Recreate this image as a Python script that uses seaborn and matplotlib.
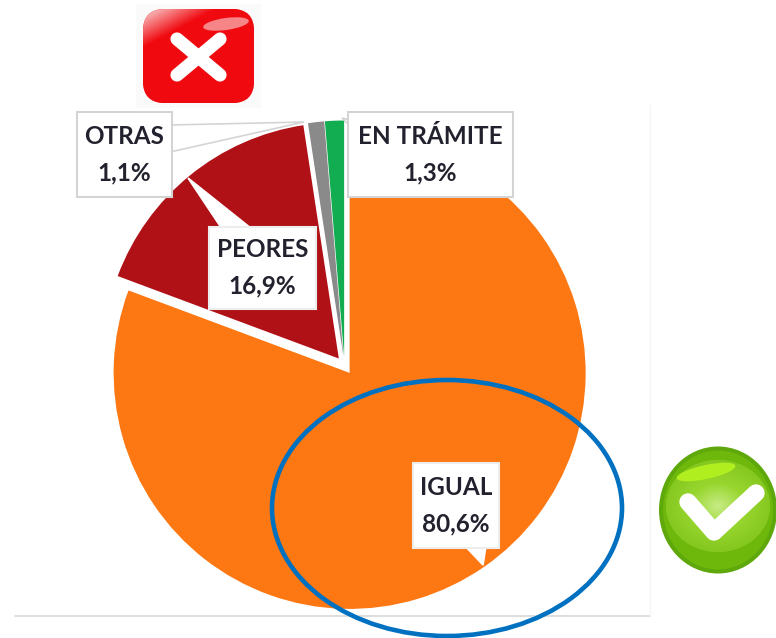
import matplotlib
matplotlib.use("Agg")
import matplotlib.pyplot as plt
import numpy as np
import seaborn as sns
from matplotlib.colors import LinearSegmentedColormap
from matplotlib.patches import Ellipse, FancyBboxPatch, Polygon, Rectangle

# -------------------- DATA --------------------
categories = ["IGUAL", "PEORES", "OTRAS", "EN TRÁMITE"]
values = [80.6, 16.9, 1.1, 1.3]
colors = ["#FD7712", "#B01116", "#8A8A8A", "#12AD50"]

W, H = 776, 638

sns.set_theme(style="white")
plt.rcParams["font.family"] = ["Lato", "DejaVu Sans"]


def sy(y):
    # picture y (from the top) to axes y
    return H - y


def pct(i):
    return f"{categories[i]}\n{values[i]:.1f}%".replace(".", ",")


fig = plt.figure(figsize=(W / 100, H / 100), dpi=100)
ax = fig.add_axes([0, 0, 1, 1])

# -------------------- PIE --------------------
ax.pie(values, colors=colors, startangle=90, counterclock=False,
       center=(344.5, sy(365.5)), radius=236, explode=[9, 9, 9, 9],
       frame=True, wedgeprops={"linewidth": 0})

# faint frame of the pasted chart
ax.plot([15, 650], [sy(616), sy(616)], color="#DEDEDE", lw=1.5, zorder=1)
ax.plot([650, 650], [sy(105), sy(616)], color="#F6F6F6", lw=1, zorder=1)

# -------------------- LABEL BOXES --------------------
boxes = {
    0: (413, 463, 499, 548, [(465, 546), (483, 565), (486, 546)]),
    1: (209, 227, 316, 309, [(222, 229), (188, 178), (252, 229)]),
    2: (77, 112, 172, 197, [(170, 125), (304, 122), (170, 152)]),
    3: (348, 112, 513, 197, [(350, 120), (342, 118), (350, 126)]),
}
for i, (x0, y0, x1, y1, tip) in boxes.items():
    edge = "#D4D4D4" if i in (2, 3) else "#EDEDED"
    tip_edge = edge if i in (2, 3) else "white"
    ax.add_patch(Polygon([(x, sy(y)) for x, y in tip], closed=True,
                         facecolor="white", edgecolor=tip_edge, lw=1.2, zorder=4))
    ax.add_patch(Rectangle((x0, sy(y1)), x1 - x0, y1 - y0, facecolor="white",
                           edgecolor=edge, lw=1.5, zorder=5))
    ax.text((x0 + x1) / 2, sy((y0 + y1) / 2), pct(i), ha="center", va="center",
            fontsize=17.5, fontweight="bold", color="#22222E", linespacing=1.7,
            zorder=6)

# -------------------- BLUE ELLIPSE --------------------
ax.add_patch(Ellipse((447, sy(508)), 350, 256, fill=False, edgecolor="#0070C0",
                     lw=3.3, zorder=7))

# -------------------- RED X ICON --------------------
ax.add_patch(Rectangle((136, sy(108)), 125, 104, facecolor="#FAFAFA", lw=0, zorder=2))
red_box = FancyBboxPatch((143 + 22, sy(103) + 22), 111 - 44, 94 - 44,
                         boxstyle="round,pad=22", facecolor="#F00A10", lw=0, zorder=3)
ax.add_patch(red_box)
gx, gy = np.meshgrid(np.linspace(0, 1, 120), np.linspace(0, 1, 100))
red_cmap = LinearSegmentedColormap.from_list("red_gloss", ["#F00A10", "#F00A10", "#F8A6A8"])
red_img = ax.imshow(np.clip(1.15 - (gx + 1.6 * gy), 0, 1), extent=(143, 254, sy(103), sy(9)),
                    origin="upper", cmap=red_cmap, vmin=0, vmax=1, zorder=3)
red_img.set_clip_path(red_box)
gloss = Ellipse((226, sy(24)), 46, 12, angle=8, facecolor="#F9B0B2", alpha=0.75, lw=0, zorder=3)
ax.add_patch(gloss)
ax.plot([177, 220], [sy(39), sy(75)], color="white", lw=9.5, solid_capstyle="round", zorder=4)
ax.plot([220, 177], [sy(39), sy(75)], color="white", lw=9.5, solid_capstyle="round", zorder=4)

# -------------------- GREEN CHECK ICON --------------------
ax.add_patch(Ellipse((718, sy(510)), 118, 127, facecolor="#5EA80C", lw=0, zorder=3))
ax.add_patch(Ellipse((718, sy(510)), 110, 119, facecolor="#6DB80A", lw=0, zorder=3))
dome = Ellipse((718, sy(506)), 104, 92, facecolor="#8CCB28", lw=0, zorder=3)
ax.add_patch(dome)
rx, ry = np.meshgrid(np.linspace(-1, 1, 110), np.linspace(-1, 1, 92))
green_cmap = LinearSegmentedColormap.from_list("green_glow", ["#C8EC86", "#98D62E", "#84C71F"])
green_img = ax.imshow(np.clip(np.hypot(rx, ry), 0, 1), extent=(663, 773, sy(552), sy(460)),
                      origin="upper", cmap=green_cmap, vmin=0, vmax=1, zorder=3)
green_img.set_clip_path(dome)
ax.add_patch(Ellipse((706, sy(472)), 60, 14, angle=12, facecolor="#B0EE20", lw=0, zorder=3))
ax.plot([688, 714, 756], [sy(502), sy(532), sy(493)], color="white", lw=12.5,
        solid_capstyle="round", solid_joinstyle="round", zorder=4)

ax.set_xlim(0, W)
ax.set_ylim(0, H)
ax.set_aspect("equal")
ax.axis("off")

fig.savefig("out.png", dpi=100)
